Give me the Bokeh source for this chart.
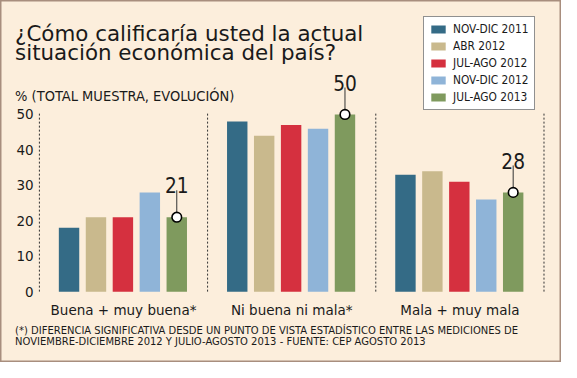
from bokeh.plotting import figure
from bokeh.models import Range1d, Label, Legend, LegendItem
from bokeh.core.properties import value
from bokeh.embed import file_html
from bokeh.resources import INLINE

# ---- data ----
categories = ["Buena + muy buena*", "Ni buena ni mala*", "Mala + muy mala"]
series_names = ["NOV-DIC 2011", "ABR 2012", "JUL-AGO 2012", "NOV-DIC 2012", "JUL-AGO 2013"]
nov_dic_2011 = [18, 48, 33]
abr_2012 = [21, 44, 34]
jul_ago_2012 = [21, 47, 31]
nov_dic_2012 = [28, 46, 26]
jul_ago_2013 = [21, 50, 28]
y_ticks = [0, 10, 20, 30, 40, 50]

title_lines = ["¿Cómo calificaría usted la actual", "situación económica del país?"]
subtitle = "% (TOTAL MUESTRA, EVOLUCIÓN)"
footnote_lines = [
    "(*) DIFERENCIA SIGNIFICATIVA DESDE UN PUNTO DE VISTA ESTADÍSTICO ENTRE LAS MEDICIONES DE",
    "NOVIEMBRE-DICIEMBRE 2012 Y JULIO-AGOSTO 2013 - FUENTE: CEP AGOSTO 2013",
]

# ---- styles ----
colors = ["#346B86", "#C9B98D", "#D5303F", "#8FB4D8", "#7F9A5E"]
BG = "#FCEEDC"
TXT = "#1a1a1a"
SANS = "DejaVu Sans"
NARROW = "DejaVu Sans Condensed"

W, H = 561, 362            # figure size
RW, RH = 577, 378          # design size
SX, SY = W / RW, H / RH
PX_X = 173.0               # design px per group
PX_Y = 3.7                 # design px per percent
ORIG_X = 40                # design x of first group boundary
ORIG_Y = 304               # design y of value 0


def dx(px):
    return (px - ORIG_X) / PX_X


def dy(py):
    return (ORIG_Y - py) / PX_Y


def fs(size):
    return f"{size * (SX + SY) / 2:.1f}px"


p = figure(width=W, height=H, output_backend="svg", toolbar_location=None,
           x_range=Range1d(dx(0), dx(RW)), y_range=Range1d(dy(RH), dy(0)),
           min_border=0)
p.background_fill_color = BG
p.border_fill_color = BG
p.outline_line_color = "#A88E7E"
p.outline_line_width = 2
p.grid.visible = False
p.axis.visible = False

n = len(categories)

# y tick labels placed through the y scale
p.text(x=[dx(34)] * len(y_ticks), y=y_ticks, text=[str(t) for t in y_ticks],
       text_font=value(SANS), text_font_size=fs(14), text_color=TXT,
       text_align="right", text_baseline="middle")

# separators
sep_x = list(range(n + 1))
p.segment(x0=sep_x, y0=[0] * (n + 1), x1=sep_x, y1=[50.5] * (n + 1),
          line_color="#333333", line_width=1, line_dash="2 2")

# bars
offset0 = 30.5 / PX_X
pitch = 27.7 / PX_X
bw = 21.0 / PX_X
series = [nov_dic_2011, abr_2012, jul_ago_2012, nov_dic_2012, jul_ago_2013]
items = []
for j, (name, vals) in enumerate(zip(series_names, series)):
    xs = [i + offset0 + j * pitch for i in range(n)]
    r = p.vbar(x=xs, top=vals, bottom=0, width=bw, fill_color=colors[j], line_color=None)
    items.append(LegendItem(label=name, renderers=[r]))

# highlight latest values
last = jul_ago_2013
xs_last = [i + offset0 + 4 * pitch for i in range(n)]
p.segment(x0=xs_last, y0=last, x1=xs_last, y1=[v + 7.6 for v in last],
          line_color="#333333", line_width=1)
p.scatter(x=xs_last, y=last, size=9.6, marker="circle", fill_color="white",
          line_color="black", line_width=1.6)
p.text(x=xs_last, y=[v + 9.0 for v in last], text=[str(v) for v in last],
       text_font=value(NARROW), text_font_size=fs(21.5), text_color=TXT,
       text_align="center", text_baseline="alphabetic")

# category labels
p.text(x=[i + 0.5 for i in range(n)], y=[dy(323)] * n, text=categories,
       text_font=value(SANS), text_font_size=fs(14), text_color=TXT,
       text_align="center", text_baseline="alphabetic")

# title, subtitle, footnote
for k, line in enumerate(title_lines):
    p.add_layout(Label(x=dx(15), y=dy(34 + 20 * k), text=line,
                       text_font=SANS, text_font_size=fs(22.2), text_color=TXT,
                       text_baseline="alphabetic"))
p.add_layout(Label(x=dx(15), y=dy(100), text=subtitle,
                   text_font=NARROW, text_font_size=fs(15), text_color=TXT,
                   text_baseline="alphabetic"))
for k, line in enumerate(footnote_lines):
    p.add_layout(Label(x=dx(15), y=dy(345 + 11 * k), text=line,
                       text_font=NARROW, text_font_size=fs(11.5), text_color=TXT,
                       text_baseline="alphabetic"))

legend = Legend(items=items, location=(round(435 * SX), round((RH - 115) * SY)),
                orientation="vertical",
                label_text_font=NARROW, label_text_font_size=fs(12.2), label_text_color=TXT,
                glyph_width=18, glyph_height=10, label_height=14, label_standoff=6,
                spacing=3, padding=5, margin=0,
                border_line_color="#222222", border_line_width=1,
                background_fill_color="white", background_fill_alpha=1)
p.add_layout(legend)

open("out.html", "w").write(file_html(p, INLINE))
